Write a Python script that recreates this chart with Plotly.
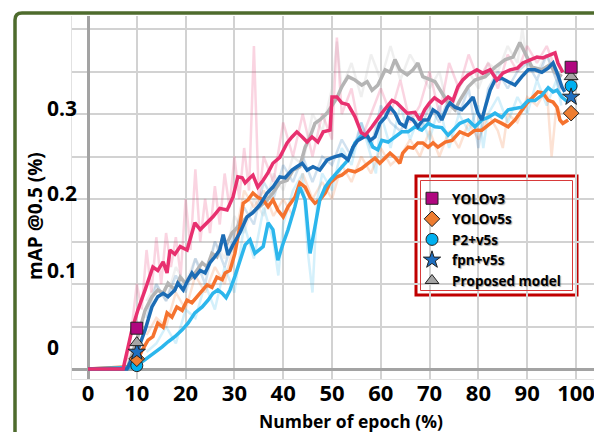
import plotly.graph_objects as go

# ---------------- data: smoothed mAP@0.5 curves ----------------
ep_v3 = [0, 7.2, 9.0, 10.2, 11.7, 13.3, 14.3, 15.4, 16.2, 16.8, 17.8, 18.9, 20.3, 21.9, 23.0, 24.4, 25.6, 27.0, 28.5, 29.7,
         30.7, 31.6, 32.2, 33.2, 33.8, 34.8, 35.9, 36.9, 37.9, 39.3, 40.8, 41.8, 42.8, 43.9, 44.9, 45.9, 47.1, 48.2, 49.6, 50.0,
         51.0, 52.0, 53.3, 54.7, 56.0, 56.8, 58.2, 60.2, 62.3, 63.3, 64.3, 65.4, 67.0, 68.0, 69.0, 70.0, 71.0, 72.5, 73.8, 74.8,
         75.8, 76.8, 77.9, 79.7, 80.9, 82.4, 83.8, 85.0, 86.5, 88.0, 89.1, 90.6, 92.0, 93.2, 94.7, 95.7, 96.3, 97.3]
map_v3 = [0, 0, 0.046, 0.069, 0.093, 0.12, 0.116, 0.126, 0.113, 0.14, 0.135, 0.144, 0.14, 0.172, 0.164, 0.172, 0.179, 0.189, 0.187, 0.202,
          0.226, 0.225, 0.219, 0.225, 0.228, 0.214, 0.222, 0.231, 0.242, 0.249, 0.266, 0.273, 0.279, 0.273, 0.267, 0.273, 0.267, 0.279, 0.281, 0.32,
          0.32, 0.313, 0.311, 0.297, 0.278, 0.275, 0.285, 0.301, 0.316, 0.313, 0.307, 0.301, 0.302, 0.293, 0.305, 0.313, 0.319, 0.313, 0.32, 0.316,
          0.332, 0.34, 0.346, 0.352, 0.348, 0.352, 0.34, 0.348, 0.352, 0.354, 0.36, 0.364, 0.367, 0.366, 0.369, 0.372, 0.36, 0.349]

ep_v5 = [0, 9.5, 11.1, 12.3, 13.3, 14.3, 15.4, 16.2, 17.2, 18.2, 19.3, 20.3, 21.3, 22.3, 23.4, 24.4, 25.4, 26.4, 27.5, 28.1,
         29.1, 30.1, 31.1, 31.8, 32.8, 33.8, 34.8, 35.9, 36.9, 37.9, 38.9, 40.0, 41.0, 42.4, 43.4, 44.5, 45.5, 46.5, 47.5, 48.6,
         49.6, 51.0, 52.0, 53.3, 54.7, 56.1, 57.4, 58.8, 59.8, 60.9, 61.9, 62.9, 63.9, 64.5, 65.6, 66.6, 67.6, 68.6, 69.7, 70.7,
         71.7, 73.2, 74.6, 76.2, 77.9, 79.3, 80.7, 82.0, 83.4, 84.8, 86.1, 87.5, 88.9, 90.0, 91.2, 92.2, 93.2, 94.3, 95.3, 96.1,
         96.7, 97.3, 98.4]
map_v5 = [0, 0.003, 0.022, 0.034, 0.038, 0.054, 0.049, 0.066, 0.061, 0.073, 0.069, 0.081, 0.078, 0.085, 0.093, 0.099, 0.096, 0.108, 0.105, 0.113,
          0.116, 0.136, 0.167, 0.195, 0.199, 0.207, 0.202, 0.199, 0.191, 0.199, 0.187, 0.179, 0.191, 0.202, 0.219, 0.214, 0.202, 0.195, 0.199, 0.207,
          0.219, 0.226, 0.228, 0.234, 0.232, 0.236, 0.242, 0.248, 0.242, 0.249, 0.254, 0.249, 0.242, 0.254, 0.261, 0.26, 0.266, 0.266, 0.261, 0.266,
          0.261, 0.267, 0.269, 0.279, 0.275, 0.281, 0.281, 0.287, 0.293, 0.289, 0.285, 0.293, 0.305, 0.313, 0.32, 0.326, 0.325, 0.316, 0.314, 0.308,
          0.293, 0.289, 0.293]

ep_p2 = [0, 9.5, 11.7, 13.7, 15.2, 16.4, 17.8, 19.3, 20.5, 21.9, 23.4, 24.6, 25.6, 26.6, 27.5, 28.3, 29.1, 30.1, 31.1, 32.2,
         33.2, 34.2, 35.9, 36.9, 37.9, 38.9, 40.0, 41.0, 42.4, 43.4, 44.5, 45.5, 46.5, 47.5, 48.6, 49.6, 51.0, 52.0, 53.3, 54.7,
         56.1, 57.4, 58.4, 59.4, 60.2, 61.5, 62.9, 64.3, 65.6, 67.0, 68.4, 69.7, 71.1, 72.5, 73.8, 74.8, 76.2, 77.9, 79.3, 80.7,
         82.0, 83.4, 84.8, 86.1, 87.5, 88.9, 90.2, 91.6, 93.0, 94.3, 95.3, 96.1, 97.1, 98.4]
map_p2 = [0, 0.002, 0.011, 0.019, 0.026, 0.032, 0.038, 0.046, 0.054, 0.066, 0.073, 0.081, 0.089, 0.093, 0.089, 0.084, 0.093, 0.109, 0.128, 0.146,
          0.152, 0.136, 0.144, 0.172, 0.164, 0.128, 0.148, 0.164, 0.191, 0.214, 0.199, 0.136, 0.167, 0.199, 0.214, 0.222, 0.231, 0.238, 0.246, 0.266,
          0.275, 0.272, 0.261, 0.258, 0.269, 0.267, 0.273, 0.279, 0.279, 0.285, 0.281, 0.289, 0.285, 0.284, 0.275, 0.281, 0.289, 0.293, 0.285, 0.293,
          0.296, 0.301, 0.296, 0.305, 0.307, 0.308, 0.316, 0.316, 0.322, 0.331, 0.326, 0.328, 0.32, 0.314]

ep_fp = [0, 8.0, 8.8, 10.2, 11.7, 13.1, 14.3, 15.4, 16.4, 17.8, 18.4, 19.5, 20.5, 21.3, 21.9, 23.0, 24.0, 25.0, 26.0, 27.0,
         27.7, 28.7, 29.7, 31.1, 32.6, 33.8, 35.2, 36.7, 37.9, 39.3, 40.4, 41.8, 42.8, 43.9, 44.9, 46.1, 47.5, 49.0, 50.2, 52.0,
         53.3, 54.3, 55.3, 57.2, 57.8, 58.8, 59.8, 60.9, 61.9, 62.9, 63.9, 65.0, 65.6, 66.6, 67.6, 68.6, 69.7, 70.7, 71.7, 72.5,
         73.6, 74.2, 75.2, 76.6, 77.9, 78.9, 79.9, 80.7, 81.4, 82.4, 83.4, 84.8, 86.1, 87.5, 88.9, 90.2, 91.6, 93.0, 94.3, 95.3,
         96.1, 97.1, 97.7]
map_fp = [0, 0, 0.01, 0.022, 0.046, 0.073, 0.085, 0.089, 0.085, 0.093, 0.101, 0.093, 0.105, 0.113, 0.108, 0.116, 0.113, 0.125, 0.132, 0.14,
          0.158, 0.134, 0.146, 0.16, 0.179, 0.184, 0.193, 0.207, 0.214, 0.226, 0.225, 0.234, 0.238, 0.242, 0.234, 0.238, 0.234, 0.246, 0.249, 0.252,
          0.246, 0.261, 0.269, 0.275, 0.269, 0.273, 0.289, 0.296, 0.308, 0.301, 0.289, 0.285, 0.296, 0.293, 0.285, 0.293, 0.293, 0.305, 0.301, 0.293,
          0.308, 0.313, 0.308, 0.305, 0.313, 0.32, 0.301, 0.293, 0.308, 0.328, 0.34, 0.342, 0.338, 0.334, 0.344, 0.352, 0.352, 0.349, 0.354, 0.36,
          0.349, 0.332, 0.326]

ep_pm = [0, 8.0, 10.2, 11.7, 13.1, 14.3, 15.4, 16.4, 17.8, 18.9, 19.9, 21.3, 22.3, 23.4, 24.4, 25.4, 26.4, 27.5, 28.5, 29.5,
         30.5, 31.6, 32.6, 33.8, 35.2, 36.7, 37.9, 39.3, 40.8, 42.0, 43.4, 44.5, 45.5, 46.5, 47.5, 49.0, 50.0, 51.0, 52.0, 53.3,
         54.7, 56.1, 57.2, 58.2, 59.4, 60.9, 61.9, 62.9, 63.9, 65.4, 66.6, 67.6, 68.6, 70.1, 71.1, 72.5, 73.8, 75.2, 76.2, 77.9,
         79.3, 81.4, 83.4, 85.5, 87.1, 88.5, 89.5, 91.0, 93.0, 94.7, 95.7, 97.1]
map_pm = [0, 0, 0.038, 0.069, 0.085, 0.093, 0.089, 0.101, 0.093, 0.108, 0.101, 0.108, 0.116, 0.125, 0.12, 0.136, 0.132, 0.152, 0.148, 0.16,
          0.166, 0.173, 0.179, 0.185, 0.191, 0.199, 0.207, 0.219, 0.222, 0.234, 0.238, 0.261, 0.273, 0.289, 0.293, 0.301, 0.311, 0.319, 0.332, 0.344,
          0.34, 0.334, 0.338, 0.328, 0.334, 0.352, 0.349, 0.364, 0.352, 0.346, 0.352, 0.36, 0.344, 0.34, 0.338, 0.325, 0.313, 0.305, 0.316, 0.332,
          0.34, 0.344, 0.355, 0.364, 0.367, 0.384, 0.372, 0.355, 0.352, 0.358, 0.349, 0.344]

# ---------------- data: raw (unsmoothed) curves drawn faintly ----------------
raw_ep_v3 = [8, 9, 10, 11, 12, 13, 14, 15, 16, 17, 18, 19, 20, 21, 22, 23, 24, 25, 26, 27, 28, 29, 30, 31, 32, 33, 34, 35, 36,
             38, 40, 42, 44, 46, 48, 50, 51, 52, 54, 56, 58, 60, 62, 64, 66, 68, 70, 72, 74, 76, 78, 80, 82, 84, 86, 88, 90,
             92, 94, 96, 97]
raw_v3 = [0.01, 0.05, 0.1, 0.07, 0.14, 0.09, 0.155, 0.1, 0.16, 0.12, 0.155, 0.11, 0.2, 0.14, 0.235, 0.15, 0.2, 0.16, 0.215, 0.17,
          0.23, 0.19, 0.25, 0.2, 0.26, 0.21, 0.38, 0.2, 0.25, 0.22, 0.29, 0.25, 0.3, 0.25, 0.3, 0.27, 0.39, 0.3, 0.33, 0.27,
          0.3, 0.33, 0.3, 0.34, 0.29, 0.31, 0.35, 0.3, 0.36, 0.33, 0.37, 0.34, 0.36, 0.33, 0.37, 0.35, 0.38, 0.36, 0.38, 0.35, 0.33]

raw_ep_v5 = [12, 14, 16, 18, 20, 22, 24, 26, 28, 30, 32, 34, 36, 38, 40, 42, 44, 46, 48, 50, 52, 54, 56, 58, 60, 62, 64, 66,
             68, 70, 72, 74, 76, 78, 80, 82, 84, 85, 86, 88, 90, 92, 94, 95, 96, 97]
raw_v5 = [0.04, 0.06, 0.05, 0.09, 0.07, 0.11, 0.09, 0.12, 0.1, 0.15, 0.21, 0.19, 0.21, 0.18, 0.2, 0.18, 0.23, 0.2, 0.22, 0.2,
          0.24, 0.22, 0.25, 0.23, 0.26, 0.24, 0.25, 0.27, 0.25, 0.28, 0.25, 0.28, 0.26, 0.29, 0.27, 0.3, 0.28, 0.26, 0.3, 0.29,
          0.32, 0.31, 0.33, 0.25, 0.31, 0.3]

raw_ep_p2 = [12, 14, 16, 18, 20, 22, 24, 26, 28, 30, 32, 34, 36, 38, 39, 40, 42, 44, 45, 46, 47, 48, 50, 52, 54, 56, 58, 59,
             60, 62, 64, 66, 68, 70, 72, 74, 76, 78, 80, 81, 82, 84, 86, 88, 90, 92, 94, 96, 97]
raw_p2 = [0.02, 0.03, 0.05, 0.03, 0.07, 0.06, 0.1, 0.07, 0.12, 0.09, 0.17, 0.13, 0.19, 0.15, 0.11, 0.17, 0.21, 0.23, 0.14, 0.09,
          0.2, 0.23, 0.21, 0.26, 0.24, 0.29, 0.25, 0.23, 0.3, 0.26, 0.31, 0.27, 0.3, 0.27, 0.31, 0.26, 0.3, 0.28, 0.31, 0.26,
          0.3, 0.32, 0.29, 0.32, 0.3, 0.34, 0.31, 0.34, 0.31]

raw_ep_fp = [12, 14, 16, 18, 20, 22, 24, 26, 28, 30, 32, 34, 36, 38, 40, 42, 44, 46, 48, 50, 52, 54, 56, 58, 60, 62, 64, 66,
             68, 70, 72, 74, 76, 78, 80, 82, 84, 86, 88, 90, 92, 94, 96, 97]
raw_fp = [0.06, 0.1, 0.08, 0.11, 0.09, 0.13, 0.1, 0.15, 0.12, 0.16, 0.19, 0.17, 0.22, 0.2, 0.24, 0.22, 0.25, 0.22, 0.25, 0.24,
          0.27, 0.25, 0.29, 0.26, 0.31, 0.29, 0.28, 0.3, 0.28, 0.31, 0.29, 0.32, 0.3, 0.33, 0.26, 0.33, 0.35, 0.33, 0.35, 0.36,
          0.34, 0.37, 0.34, 0.32]

raw_ep_pm = [12, 14, 16, 18, 20, 22, 24, 26, 28, 30, 32, 34, 36, 38, 40, 42, 44, 46, 48, 50, 51, 52, 54, 56, 58, 60, 62, 64,
             66, 68, 70, 72, 74, 76, 78, 80, 82, 84, 86, 88, 89, 90, 92, 94, 96, 97]
raw_pm = [0.08, 0.1, 0.08, 0.12, 0.1, 0.13, 0.11, 0.15, 0.13, 0.18, 0.16, 0.2, 0.18, 0.23, 0.21, 0.25, 0.24, 0.3, 0.28, 0.33,
          0.385, 0.33, 0.36, 0.32, 0.37, 0.34, 0.38, 0.34, 0.37, 0.35, 0.33, 0.35, 0.3, 0.33, 0.35, 0.33, 0.36, 0.35, 0.38, 0.36,
          0.4, 0.36, 0.35, 0.37, 0.34, 0.33]

# ---------------- data: marker values at the first and last evaluated epoch ----------------
mark_epochs = [10, 99]
mark_v3 = [0.048, 0.355]
mark_v5 = [0.012, 0.301]
mark_p2 = [0.004, 0.333]
mark_fp = [0.020, 0.320]
mark_pm = [0.031, 0.344]

y_tick_vals = [0.026, 0.116, 0.207, 0.307]
y_tick_text = ["0", "0.1", "0.2", "0.3"]
x_tick_vals = [0, 10, 20, 30, 40, 50, 60, 70, 80, 90, 100]

FONT = "Open Sans"

# ---------------- figure geometry (pixels) ----------------
W, H = 594, 432
ML, MR, MT, MB = 72, 0, 16, 53
PW, PH = W - ML - MR, H - MT - MB


def pu(px):
    """pixel x -> paper x"""
    return (px - ML) / PW


def pv(py):
    """pixel y -> paper y"""
    return (H - MB - py) / PH


fig = go.Figure()

series = [
    # name, smoothed x/y, raw x/y, line colour, marker values, symbol, marker colour, size, legend rank
    ("Proposed model", ep_pm, map_pm, raw_ep_pm, raw_pm, "#b4b4b4", mark_pm, "triangle-up", "#a5a5a5", 12, 5),
    ("YOLOv5s", ep_v5, map_v5, raw_ep_v5, raw_v5, "#f5722e", mark_v5, "diamond", "#ed7d31", 12, 2),
    ("P2+v5s", ep_p2, map_p2, raw_ep_p2, raw_p2, "#2cb6ec", mark_p2, "circle", "#00b0f0", 12, 3),
    ("fpn+v5s", ep_fp, map_fp, raw_ep_fp, raw_fp, "#1b6cb5", mark_fp, "star", "#1f6fc0", 13, 4),
    ("YOLOv3", ep_v3, map_v3, raw_ep_v3, raw_v3, "#e8306f", mark_v3, "square", "#b0077f", 12, 1),
]

# faint raw curves
for name, ex, ey, rx, ry, lc, *_ in series:
    fig.add_trace(go.Scatter(x=rx, y=ry, mode="lines", showlegend=False, hoverinfo="skip",
                             line=dict(color=lc, width=2.5), opacity=0.2))

# smoothed curves
for name, ex, ey, rx, ry, lc, *_ in series:
    fig.add_trace(go.Scatter(x=ex, y=ey, mode="lines", showlegend=False, name=name,
                             line=dict(color=lc, width=3.5)))

# markers (drawn bottom-up so the square sits on top)
for name, ex, ey, rx, ry, lc, mv, sym, mc, ms, rank in [series[2], series[1], series[3], series[0], series[4]]:
    fig.add_trace(go.Scatter(x=mark_epochs, y=mv, mode="markers", name=name, legendrank=rank,
                             marker=dict(symbol=sym, color=mc, size=ms, line=dict(color="#222222", width=1))))

# y tick labels (left aligned, bold)
annotations = []
for v, t in zip(y_tick_vals, y_tick_text):
    annotations.append(dict(x=pu(45), xref="paper", y=v, yref="y", text=t, showarrow=False,
                            xanchor="left", yanchor="middle",
                            font=dict(family=FONT, size=21, color="black", weight="bold")))

# axis titles
annotations.append(dict(x=pu(35), xref="paper", y=pv(216), yref="paper", text="mAP @0.5 (%)", textangle=-90,
                        showarrow=False, xanchor="center", yanchor="middle",
                        font=dict(family=FONT, size=19, color="black", weight="bold")))
annotations.append(dict(x=pu(351), xref="paper", y=pv(421), yref="paper", text="Number of epoch (%)",
                        showarrow=False, xanchor="center", yanchor="middle",
                        font=dict(family=FONT, size=17.5, color="black", weight="bold")))

# frame: green rounded border and the red double-lined legend box
x0, y0 = pu(15), pv(13)
rx_, ry_ = 7 / PW, 7 / PH
frame_path = (f"M {x0},{pv(470)} L {x0},{y0 - ry_} Q {x0},{y0} {x0 + rx_},{y0} L {pu(640)},{y0}")
shapes = [
    dict(type="path", path=frame_path, xref="paper", yref="paper", line=dict(color="#4e6b2d", width=3.5)),
    dict(type="rect", xref="paper", yref="paper", x0=pu(416), x1=pu(577), y0=pv(176), y1=pv(295),
         line=dict(color="#c00000", width=3), fillcolor="rgba(255,255,255,0.85)", layer="below"),
    dict(type="rect", xref="paper", yref="paper", x0=pu(420.5), x1=pu(572.5), y0=pv(180.5), y1=pv(290.5),
         line=dict(color="#d83a3a", width=1)),
]

fig.update_layout(
    width=W, height=H,
    margin=dict(l=ML, r=MR, t=MT, b=MB, autoexpand=False),
    paper_bgcolor="white", plot_bgcolor="white",
    template="none",
    showlegend=True,
    legend=dict(x=pu(412), y=pv(183), xanchor="left", yanchor="top",
                bgcolor="rgba(0,0,0,0)", borderwidth=0, itemwidth=30,
                font=dict(family=FONT, size=13.5, color="black", weight="bold",
                          shadow="1px 1px 1px rgba(0,0,0,0.35)")),
    xaxis=dict(range=[(72 - 88) / 4.88, (594 - 88) / 4.88], tickvals=x_tick_vals,
               showgrid=True, gridcolor="#d2d2d2", gridwidth=2,
               zeroline=True, zerolinecolor="#a3a3a3", zerolinewidth=3,
               showline=True, linecolor="#e2e2e2", linewidth=1,
               ticks="", ticklabelstandoff=-5, ticklabeloverflow="allow", automargin=False,
               tickfont=dict(family=FONT, size=22, color="black", weight="bold")),
    yaxis=dict(range=[-10 / 850, 353 / 850], tick0=0, dtick=0.05,
               showgrid=True, gridcolor="#d2d2d2", gridwidth=2,
               zeroline=True, zerolinecolor="#a3a3a3", zerolinewidth=3,
               showline=True, linecolor="#e2e2e2", linewidth=1,
               showticklabels=False, ticks="", automargin=False),
    annotations=annotations,
    shapes=shapes,
    font=dict(family=FONT),
)

fig.write_html("out.html")
